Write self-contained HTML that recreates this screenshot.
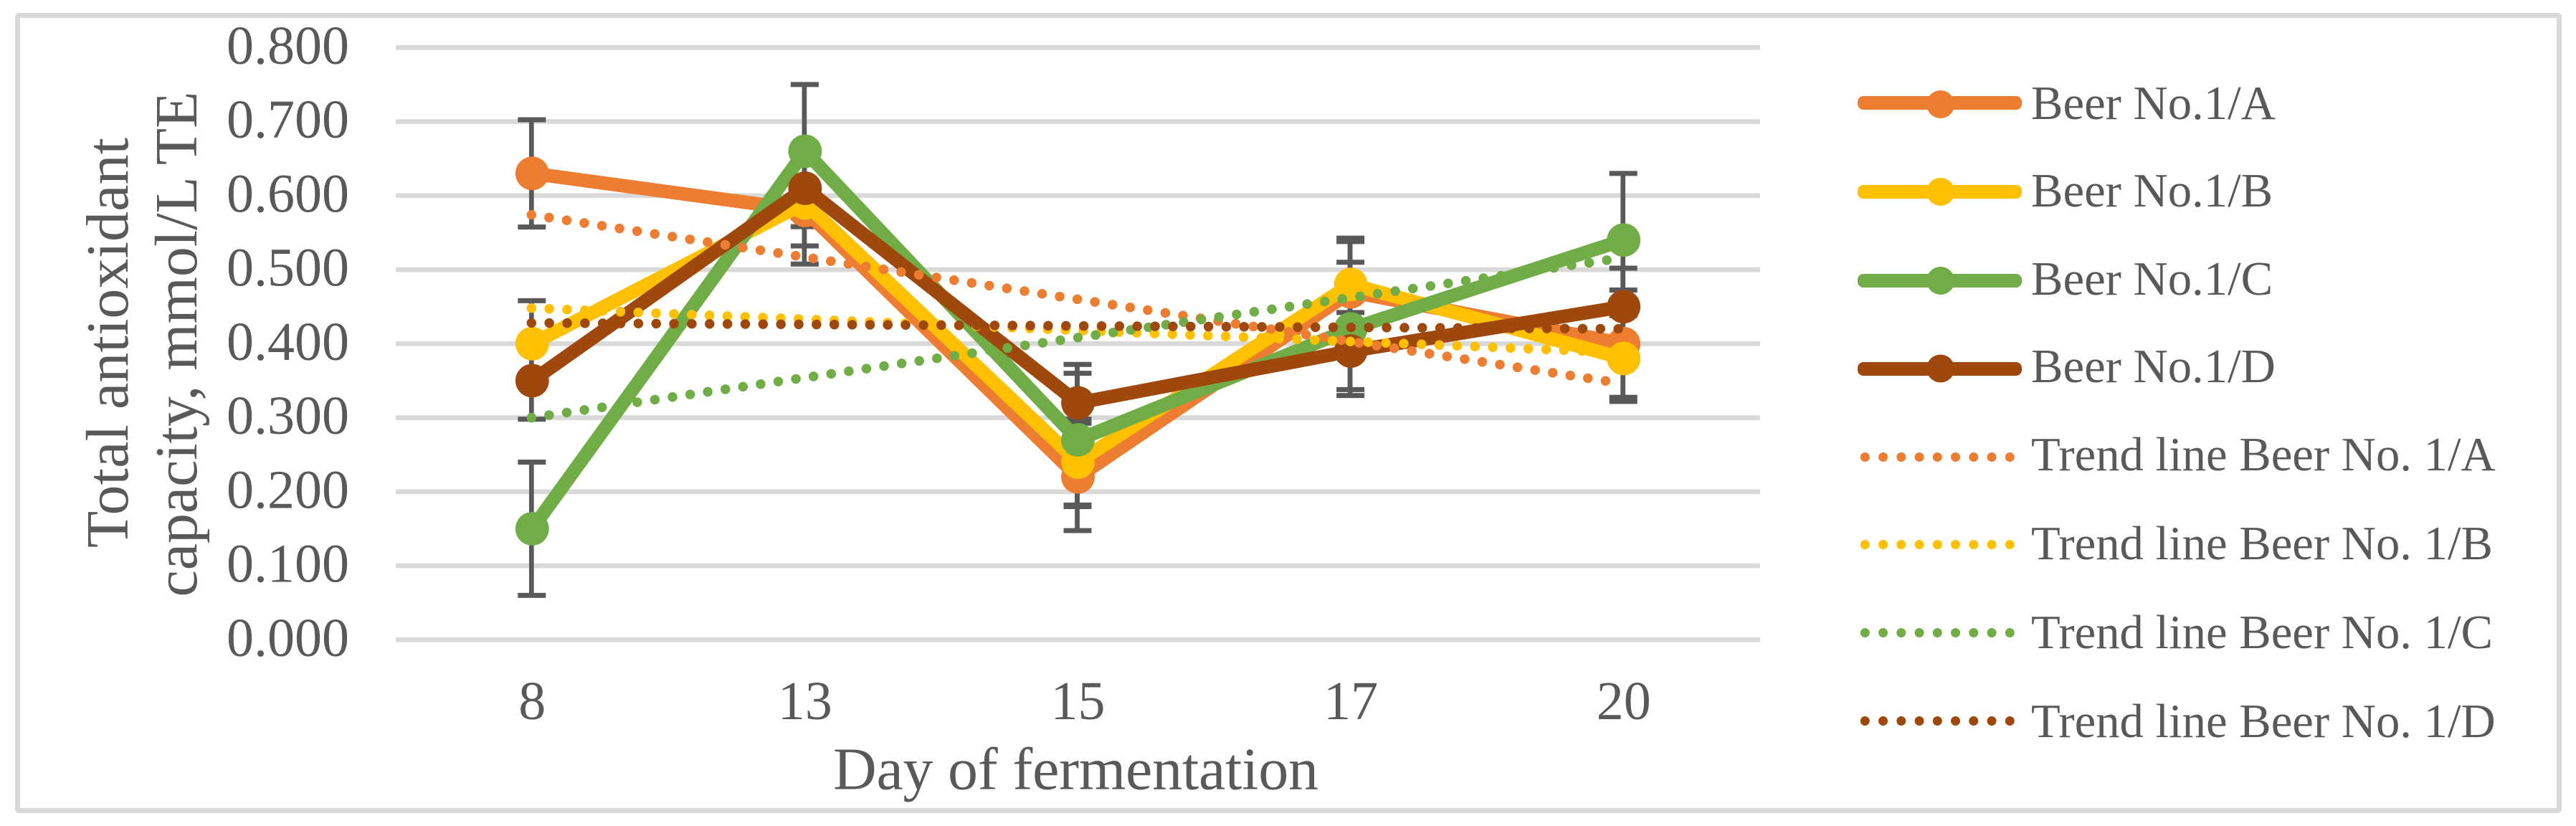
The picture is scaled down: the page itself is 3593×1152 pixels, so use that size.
<!DOCTYPE html>
<html lang="en">
<head>
<meta charset="utf-8">
<title>Total antioxidant capacity during fermentation</title>
<style>
  html, body { margin: 0; padding: 0; background: #ffffff; }
  svg { display: block; }
  text { font-family: "Liberation Serif", "DejaVu Serif", serif; fill: #595959; }
</style>
</head>
<body>
<svg id="chart" xmlns="http://www.w3.org/2000/svg" width="3593" height="1152" viewBox="0 0 3593 1152">
  <rect x="0" y="0" width="3593" height="1152" fill="#ffffff"/>
  <rect x="24.5" y="21.5" width="3545" height="1109" rx="2" fill="#ffffff" stroke="#d9d9d9" stroke-width="7"/>

  <g id="grid-layer"></g>
  <g id="ytick-layer" font-size="76" text-anchor="end"></g>
  <g id="xtick-layer" font-size="76" text-anchor="middle"></g>
  <g id="error-layer"></g>
  <g id="series-layer"></g>
  <g id="trend-layer"></g>

  <text font-size="84" text-anchor="middle" textLength="572" transform="translate(178 478) rotate(-90)">Total antioxidant</text>
  <text font-size="84" text-anchor="middle" textLength="705" transform="translate(274 480) rotate(-90)">capacity, mmol/L TE</text>
  <text font-size="84" text-anchor="middle" textLength="677" x="1500.5" y="1100.5">Day of fermentation</text>

  <g font-size="66.7">
    <g>
      <rect x="2591" y="134" width="229" height="19" rx="8" fill="#ed7d31"/>
      <circle cx="2706.7" cy="145.5" r="19.5" fill="#ed7d31"/>
      <text x="2833" y="166">Beer No.1/A</text>
    </g>
    <g>
      <rect x="2591" y="258" width="229" height="19" rx="8" fill="#ffc000"/>
      <circle cx="2706.7" cy="267.5" r="19.5" fill="#ffc000"/>
      <text x="2833" y="288">Beer No.1/B</text>
    </g>
    <g>
      <rect x="2591" y="382" width="229" height="19" rx="8" fill="#70ad47"/>
      <circle cx="2706.7" cy="391.5" r="19.5" fill="#70ad47"/>
      <text x="2833" y="411">Beer No.1/C</text>
    </g>
    <g>
      <rect x="2591" y="505" width="229" height="19" rx="8" fill="#9e480e"/>
      <circle cx="2706.7" cy="514" r="19.5" fill="#9e480e"/>
      <text x="2833" y="533">Beer No.1/D</text>
    </g>
    <g>
      <line x1="2601.3" y1="637.5" x2="2804" y2="637.5" stroke="#ed7d31" stroke-width="13" stroke-linecap="round" stroke-dasharray="0 25.25"/>
      <text x="2833" y="656">Trend line Beer No. 1/A</text>
    </g>
    <g>
      <line x1="2601.3" y1="759.5" x2="2804" y2="759.5" stroke="#ffc000" stroke-width="13" stroke-linecap="round" stroke-dasharray="0 25.25"/>
      <text x="2833" y="780">Trend line Beer No. 1/B</text>
    </g>
    <g>
      <line x1="2601.3" y1="882.5" x2="2804" y2="882.5" stroke="#70ad47" stroke-width="13" stroke-linecap="round" stroke-dasharray="0 25.25"/>
      <text x="2833" y="904">Trend line Beer No. 1/C</text>
    </g>
    <g>
      <line x1="2601.3" y1="1005.5" x2="2804" y2="1005.5" stroke="#9e480e" stroke-width="13" stroke-linecap="round" stroke-dasharray="0 25.25"/>
      <text x="2833" y="1028">Trend line Beer No. 1/D</text>
    </g>
  </g>
</svg>

<script>
const categories = ['8', '13', '15', '17', '20'];
const yTickValues = [0, 0.1, 0.2, 0.3, 0.4, 0.5, 0.6, 0.7, 0.8];
const yTickLabels = ['0.000', '0.100', '0.200', '0.300', '0.400', '0.500', '0.600', '0.700', '0.800'];

const beerA = [0.63, 0.58, 0.22, 0.47, 0.40];
const beerB = [0.40, 0.59, 0.24, 0.48, 0.38];
const beerC = [0.15, 0.66, 0.27, 0.42, 0.54];
const beerD = [0.35, 0.61, 0.32, 0.39, 0.45];

const errorA = [0.0725, 0.0725, 0.0725, 0.0725, 0.0725];
const errorB = [0.058, 0.058, 0.058, 0.058, 0.058];
const errorC = [0.09, 0.09, 0.09, 0.09, 0.09];
const errorD = [0.052, 0.052, 0.052, 0.052, 0.052];

const trendA = [0.574, 0.346];
const trendB = [0.448, 0.388];
const trendC = [0.300, 0.516];
const trendD = [0.428, 0.420];

const seriesKeys = ['a', 'b', 'c', 'd'];
const seriesValues = [beerA, beerB, beerC, beerD];
const seriesErrors = [errorA, errorB, errorC, errorD];
const seriesTrends = [trendA, trendB, trendC, trendD];
const seriesColors = ['#ed7d31', '#ffc000', '#70ad47', '#9e480e'];

const SVG_NS = 'http://www.w3.org/2000/svg';

function xScale(i) { return 742.3 + 380.6 * i; }
function yScale(v) { return 892.3 - 1032.5 * v; }

function mk(tag, parentId, attrs) {
  const el = document.createElementNS(SVG_NS, tag);
  Object.keys(attrs).forEach(function (k) { el.setAttribute(k, attrs[k]); });
  document.getElementById(parentId).appendChild(el);
  return el;
}

yTickValues.forEach(function (v, i) {
  const grid = mk('line', 'grid-layer', { x1: 552, x2: 2455, y1: yScale(v), y2: yScale(v), stroke: '#d9d9d9', 'stroke-width': 6.7 });
  
  
  const label = mk('text', 'ytick-layer', { x: 487, y: yScale(v) + 22.5 });
  label.textContent = yTickLabels[i];
  
  
});

categories.forEach(function (c, i) {
  const label = mk('text', 'xtick-layer', { x: xScale(i), y: 1003 });
  label.textContent = c;
  
  
});

seriesKeys.forEach(function (key, s) {
  seriesValues[s].forEach(function (v, i) {
    const bx = xScale(i) - 1;
    const top = yScale(v + seriesErrors[s][i]);
    const bottom = yScale(v - seriesErrors[s][i]);
    const stem = mk('line', 'error-layer', { x1: bx, x2: bx, y1: top, y2: bottom, stroke: '#595959', 'stroke-width': 6.7 });
    
    
    const capTop = mk('line', 'error-layer', { x1: bx - 19, x2: bx + 20, y1: top, y2: top, stroke: '#595959', 'stroke-width': 7 });
    
    
    const capBottom = mk('line', 'error-layer', { x1: bx - 19, x2: bx + 20, y1: bottom, y2: bottom, stroke: '#595959', 'stroke-width': 7 });
    
    
  });
});

seriesKeys.forEach(function (key, s) {
  const pts = seriesValues[s].map(function (v, i) { return xScale(i) + ',' + yScale(v); }).join(' ');
  const line = mk('polyline', 'series-layer', { points: pts, fill: 'none', stroke: seriesColors[s], 'stroke-width': 19, 'stroke-linejoin': 'round', 'stroke-linecap': 'round' });
  
  
  seriesValues[s].forEach(function (v, i) {
    const dot = mk('circle', 'series-layer', { cx: xScale(i), cy: yScale(v), r: 23.4, fill: seriesColors[s] });
    
    
  });
});

seriesKeys.forEach(function (key, s) {
  const t = seriesTrends[s];
  const trend = mk('line', 'trend-layer', {
    x1: xScale(0) - 1, y1: yScale(t[0]),
    x2: xScale(categories.length - 1) - 1, y2: yScale(t[1]),
    stroke: seriesColors[s], 'stroke-width': 13.5, 'stroke-linecap': 'round', 'stroke-dasharray': '0 24.85'
  });
  
  
});
</script>
</body>
</html>
